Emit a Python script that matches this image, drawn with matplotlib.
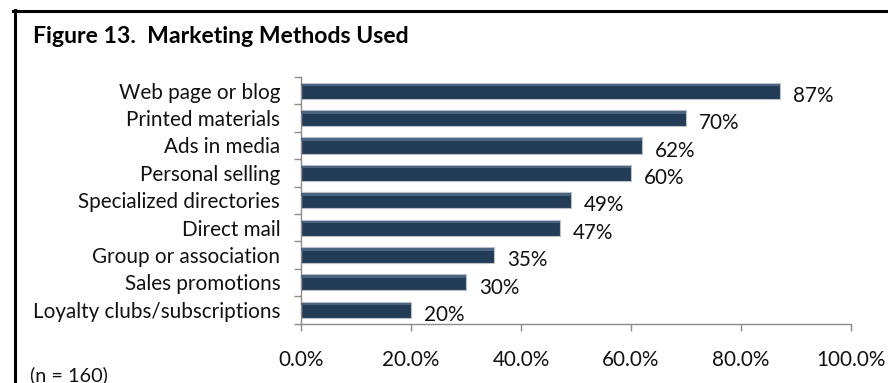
import matplotlib
matplotlib.use("Agg")
import matplotlib.pyplot as plt
from matplotlib.lines import Line2D
from matplotlib.ticker import FixedLocator, FuncFormatter

categories = ["Web page or blog", "Printed materials", "Ads in media", "Personal selling",
              "Specialized directories", "Direct mail", "Group or association",
              "Sales promotions", "Loyalty clubs/subscriptions"]
values = [87, 70, 62, 60, 49, 47, 35, 30, 20]
value_labels = ["87%", "70%", "62%", "60%", "49%", "47%", "35%", "30%", "20%"]
xticks = [0, 20, 40, 60, 80, 100]
title = "Figure 13.  Marketing Methods Used"
note = "(n = 160)"

W, H = 888, 383
FS = 14.9
plt.rcParams['font.family'] = ['Lato', 'DejaVu Sans']
fig = plt.figure(figsize=(W / 100, H / 100), dpi=100)
fig.patch.set_facecolor('white')

ax = fig.add_axes([301 / W, 1 - 323.5 / H, (851 - 301) / W, (323.5 - 77) / H])
n = len(categories)
ypos = list(range(n))
ax.barh(ypos, values, height=0.59, color='#223b56', edgecolor='#b9c0c8', linewidth=0.8, zorder=2)
# subtle highlight strip on top of each bar
ax.barh([y - 0.21 for y in ypos], values, height=0.1, color='#4b6482', linewidth=0, zorder=3)
ax.set_ylim(n - 0.5, -0.5)
ax.set_xlim(0, 100)

ax.set_yticks(ypos)
ax.set_yticklabels(categories)
ax.yaxis.set_minor_locator(FixedLocator([i - 0.5 for i in range(n + 1)]))
ax.tick_params(axis='y', which='major', length=0, pad=15, labelsize=FS, labelcolor='#111111')
ax.tick_params(axis='y', which='minor', length=5, width=1, color='#8c8c8c', direction='out')

ax.set_xticks(xticks)
ax.xaxis.set_major_formatter(FuncFormatter(lambda v, p: f"{v:.1f}%"))
ax.tick_params(axis='x', which='major', length=5, width=1, color='#8c8c8c', pad=14,
               labelsize=FS, labelcolor='#111111')

for s in ['top', 'right']:
    ax.spines[s].set_visible(False)
for s in ['left', 'bottom']:
    ax.spines[s].set_color('#8c8c8c')
    ax.spines[s].set_linewidth(1)

for y, v, lab in zip(ypos, values, value_labels):
    ax.annotate(lab, xy=(v, y), xytext=(9.5, -8), textcoords='offset points',
                ha='left', va='baseline', fontsize=FS, color='#111111')

fig.text(33 / W, 1 - 43 / H, title, fontsize=16.6, fontweight='bold', ha='left', va='baseline',
         color='#000000')
fig.text(30 / W, 1 - 381 / H, note, fontsize=FS - 0.6, ha='left', va='baseline', color='#111111')

# border lines (top and left)
fig.add_artist(Line2D([13 / W, 1.0], [1 - 11 / H, 1 - 11 / H], transform=fig.transFigure,
                      color='black', linewidth=2.2))
fig.add_artist(Line2D([14.5 / W, 14.5 / W], [1 - 10 / H, 0.0], transform=fig.transFigure,
                      color='black', linewidth=2.2))

fig.savefig("out.png", dpi=100, facecolor='white')
